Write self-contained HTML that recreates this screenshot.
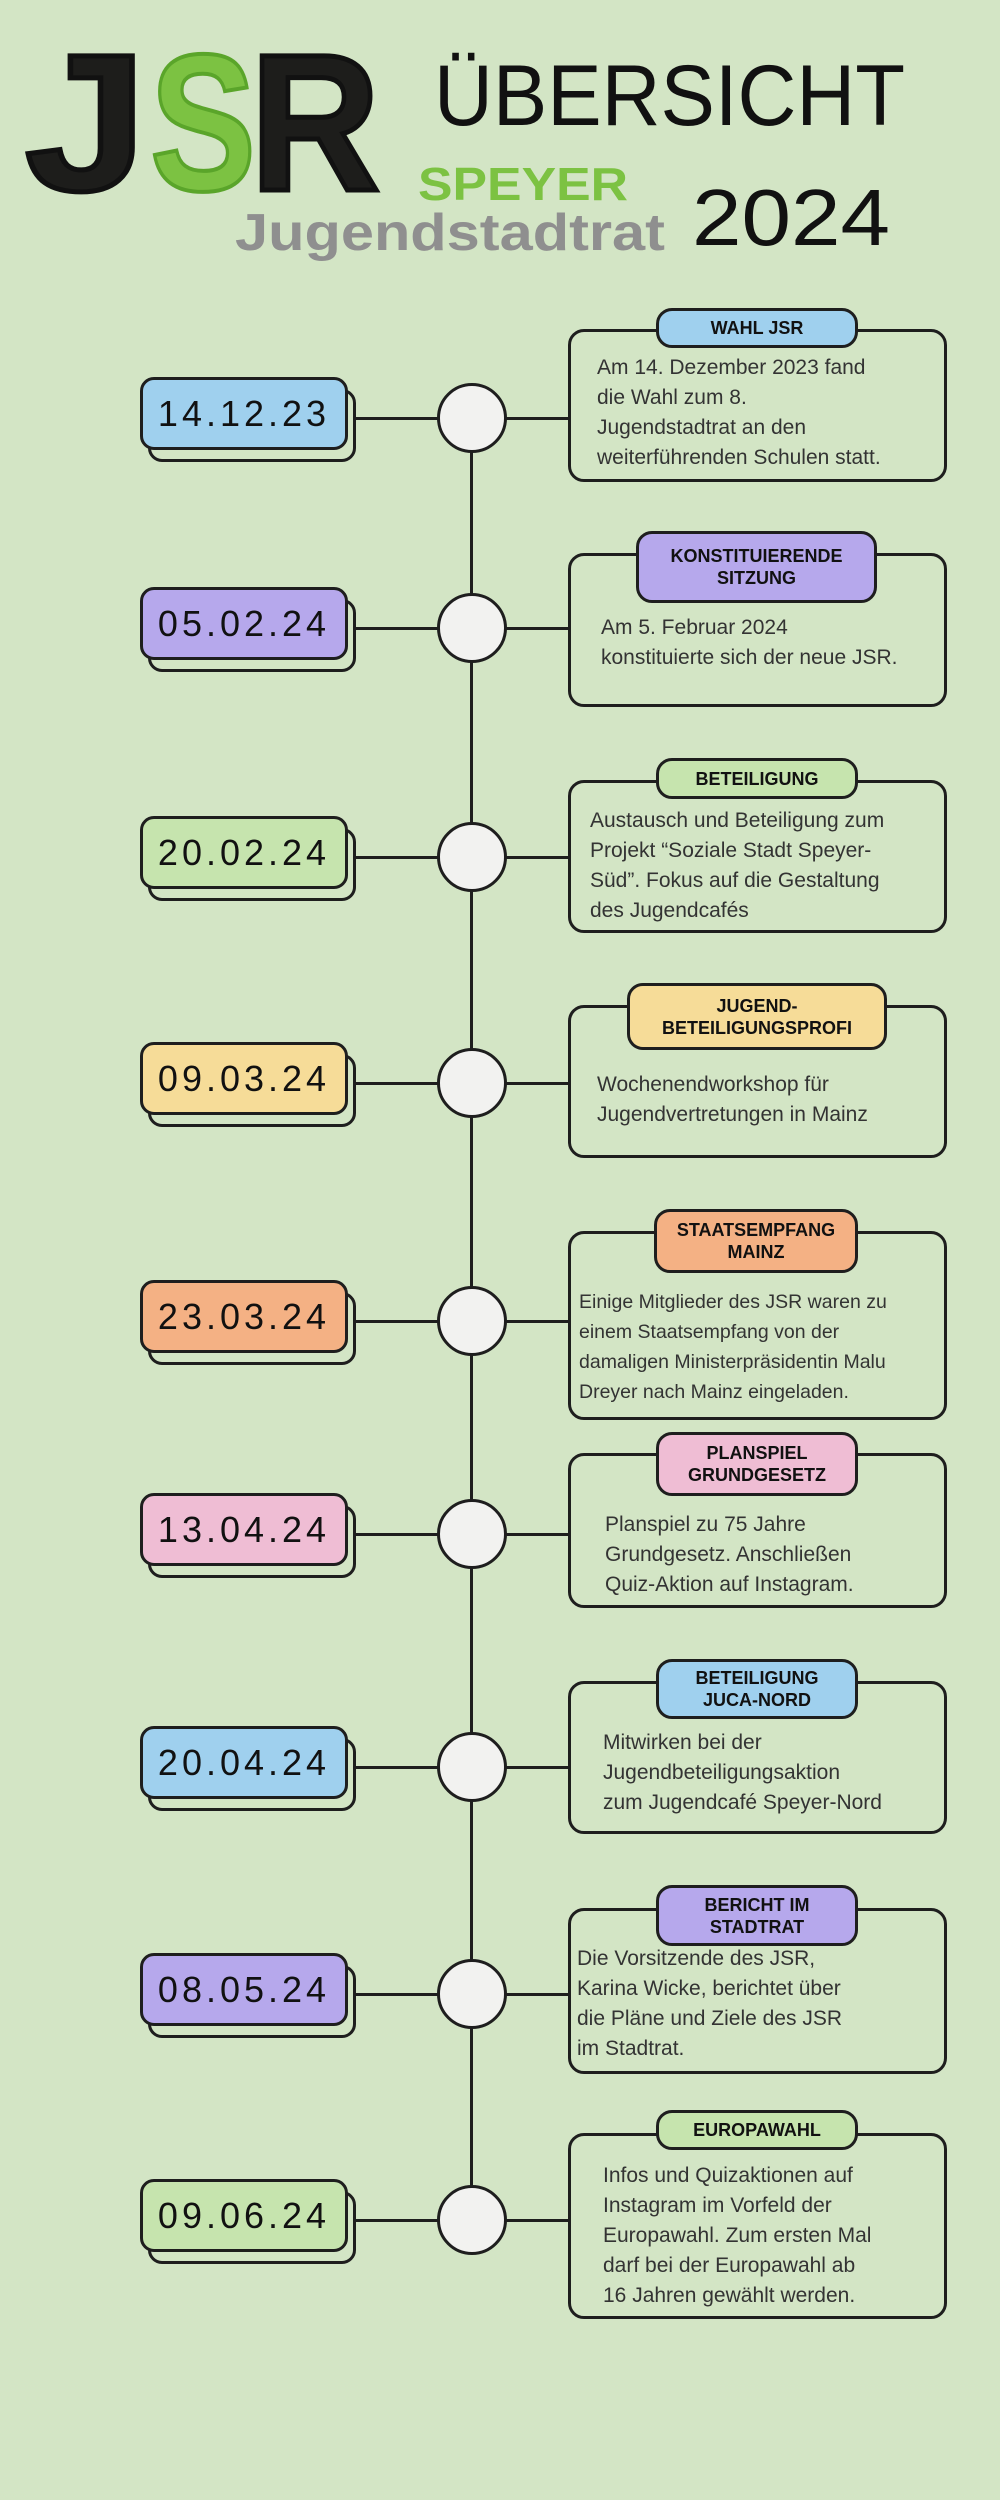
<!DOCTYPE html>
<html><head><meta charset="utf-8">
<style>
*{margin:0;padding:0;box-sizing:border-box}
body{width:1000px;height:2500px;background:#d3e5c5;position:relative;overflow:hidden;font-family:"Liberation Sans",sans-serif;color:#2a2a2a}
.line{position:absolute;left:470px;top:418px;width:3px;height:1802px;background:#1e1e1e}
.hc{position:absolute;left:348px;width:220px;height:3px;background:#1e1e1e}
.circ{position:absolute;left:437px;width:70px;height:70px;border-radius:50%;background:#f2f2f0;border:3px solid #1e1e1e}
.dsh{position:absolute;left:148px;width:208px;height:73px;border:3px solid #1e1e1e;border-radius:14px;background:#d3e5c5}
.dt{position:absolute;left:140px;width:208px;height:73px;border:3px solid #1e1e1e;border-radius:14px;font-size:36px;letter-spacing:4px;text-align:center;line-height:67px;color:#111}
.card{position:absolute;left:568px;width:379px;border:3px solid #1e1e1e;border-radius:16px}
.pill{position:absolute;border:3px solid #1e1e1e;border-radius:16px;font-weight:bold;font-size:18px;text-align:center;display:flex;align-items:center;justify-content:center;line-height:22px;color:#111}
.tx{position:absolute;font-size:21px;line-height:30px;color:#333;white-space:nowrap}
.b{background:#9fd0ee}.p{background:#b6a8ec}.g{background:#c6e4ae}.y{background:#f6dc98}.o{background:#f4b184}.k{background:#efbdd4}
</style></head><body>
<svg width="1000" height="300" style="position:absolute;left:0;top:0">
<text x="25" y="190" font-family="Liberation Sans" font-weight="bold" font-size="195" textLength="122" lengthAdjust="spacingAndGlyphs" fill="#1d1d1b" stroke="#111" stroke-width="5">J</text>
<text x="150" y="190" font-family="Liberation Sans" font-weight="bold" font-size="195" textLength="106" lengthAdjust="spacingAndGlyphs" fill="#7cc242" stroke="#5aa52a" stroke-width="4">S</text>
<text x="250" y="190" font-family="Liberation Sans" font-weight="bold" font-size="195" textLength="130" lengthAdjust="spacingAndGlyphs" fill="#1d1d1b" stroke="#111" stroke-width="5">R</text>
<text x="418" y="200" font-family="Liberation Sans" font-weight="bold" font-size="46" textLength="210" lengthAdjust="spacingAndGlyphs" fill="#7cc242">SPEYER</text>
<text x="235" y="250" font-family="Liberation Sans" font-weight="bold" font-size="52" textLength="430" lengthAdjust="spacingAndGlyphs" fill="#8f8f8f">Jugendstadtrat</text>
<text x="434" y="125" font-family="Liberation Sans" font-size="86" textLength="471" lengthAdjust="spacingAndGlyphs" fill="#111">ÜBERSICHT</text>
<text x="692" y="245" font-family="Liberation Sans" font-size="80" textLength="198" lengthAdjust="spacingAndGlyphs" fill="#111">2024</text>
</svg>
<div class="line"></div>

<!-- 1 -->
<div class="hc" style="top:417px"></div>
<div class="dsh" style="top:389px"></div><div class="dt b" style="top:377px">14.12.23</div>
<div class="circ" style="top:383px"></div>
<div class="card" style="top:329px;height:153px"></div>
<div class="pill b" style="left:656px;top:308px;width:202px;height:40px">WAHL JSR</div>
<div class="tx" style="left:597px;top:353px">Am 14. Dezember 2023 fand<br>die Wahl zum 8.<br>Jugendstadtrat an den<br>weiterführenden Schulen statt.</div>

<!-- 2 -->
<div class="hc" style="top:627px"></div>
<div class="dsh" style="top:599px"></div><div class="dt p" style="top:587px">05.02.24</div>
<div class="circ" style="top:593px"></div>
<div class="card" style="top:553px;height:154px"></div>
<div class="pill p" style="left:636px;top:531px;width:241px;height:72px">KONSTITUIERENDE<br>SITZUNG</div>
<div class="tx" style="left:601px;top:613px">Am 5. Februar 2024<br>konstituierte sich der neue JSR.</div>

<!-- 3 -->
<div class="hc" style="top:856px"></div>
<div class="dsh" style="top:828px"></div><div class="dt g" style="top:816px">20.02.24</div>
<div class="circ" style="top:822px"></div>
<div class="card" style="top:780px;height:153px"></div>
<div class="pill g" style="left:656px;top:758px;width:202px;height:41px">BETEILIGUNG</div>
<div class="tx" style="left:590px;top:806px">Austausch und Beteiligung zum<br>Projekt “Soziale Stadt Speyer-<br>Süd”. Fokus auf die Gestaltung<br>des Jugendcafés</div>

<!-- 4 -->
<div class="hc" style="top:1082px"></div>
<div class="dsh" style="top:1054px"></div><div class="dt y" style="top:1042px">09.03.24</div>
<div class="circ" style="top:1048px"></div>
<div class="card" style="top:1005px;height:153px"></div>
<div class="pill y" style="left:627px;top:983px;width:260px;height:67px">JUGEND-<br>BETEILIGUNGSPROFI</div>
<div class="tx" style="left:597px;top:1070px">Wochenendworkshop für<br>Jugendvertretungen in Mainz</div>

<!-- 5 -->
<div class="hc" style="top:1320px"></div>
<div class="dsh" style="top:1292px"></div><div class="dt o" style="top:1280px">23.03.24</div>
<div class="circ" style="top:1286px"></div>
<div class="card" style="top:1231px;height:189px"></div>
<div class="pill o" style="left:654px;top:1209px;width:204px;height:64px">STAATSEMPFANG<br>MAINZ</div>
<div class="tx" style="left:579px;top:1287px;font-size:19.5px">Einige Mitglieder des JSR waren zu<br>einem Staatsempfang von der<br>damaligen Ministerpräsidentin Malu<br>Dreyer nach Mainz eingeladen.</div>

<!-- 6 -->
<div class="hc" style="top:1533px"></div>
<div class="dsh" style="top:1505px"></div><div class="dt k" style="top:1493px">13.04.24</div>
<div class="circ" style="top:1499px"></div>
<div class="card" style="top:1453px;height:155px"></div>
<div class="pill k" style="left:656px;top:1432px;width:202px;height:64px">PLANSPIEL<br>GRUNDGESETZ</div>
<div class="tx" style="left:605px;top:1510px">Planspiel zu 75 Jahre<br>Grundgesetz. Anschließen<br>Quiz-Aktion auf Instagram.</div>

<!-- 7 -->
<div class="hc" style="top:1766px"></div>
<div class="dsh" style="top:1738px"></div><div class="dt b" style="top:1726px">20.04.24</div>
<div class="circ" style="top:1732px"></div>
<div class="card" style="top:1681px;height:153px"></div>
<div class="pill b" style="left:656px;top:1659px;width:202px;height:60px">BETEILIGUNG<br>JUCA-NORD</div>
<div class="tx" style="left:603px;top:1728px">Mitwirken bei der<br>Jugendbeteiligungsaktion<br>zum Jugendcafé Speyer-Nord</div>

<!-- 8 -->
<div class="hc" style="top:1993px"></div>
<div class="dsh" style="top:1965px"></div><div class="dt p" style="top:1953px">08.05.24</div>
<div class="circ" style="top:1959px"></div>
<div class="card" style="top:1908px;height:166px"></div>
<div class="pill p" style="left:656px;top:1885px;width:202px;height:61px">BERICHT IM<br>STADTRAT</div>
<div class="tx" style="left:577px;top:1944px">Die Vorsitzende des JSR,<br>Karina Wicke, berichtet über<br>die Pläne und Ziele des JSR<br>im Stadtrat.</div>

<!-- 9 -->
<div class="hc" style="top:2219px"></div>
<div class="dsh" style="top:2191px"></div><div class="dt g" style="top:2179px">09.06.24</div>
<div class="circ" style="top:2185px"></div>
<div class="card" style="top:2133px;height:186px"></div>
<div class="pill g" style="left:656px;top:2110px;width:202px;height:40px">EUROPAWAHL</div>
<div class="tx" style="left:603px;top:2161px">Infos und Quizaktionen auf<br>Instagram im Vorfeld der<br>Europawahl. Zum ersten Mal<br>darf bei der Europawahl ab<br>16 Jahren gewählt werden.</div>
</body></html>
